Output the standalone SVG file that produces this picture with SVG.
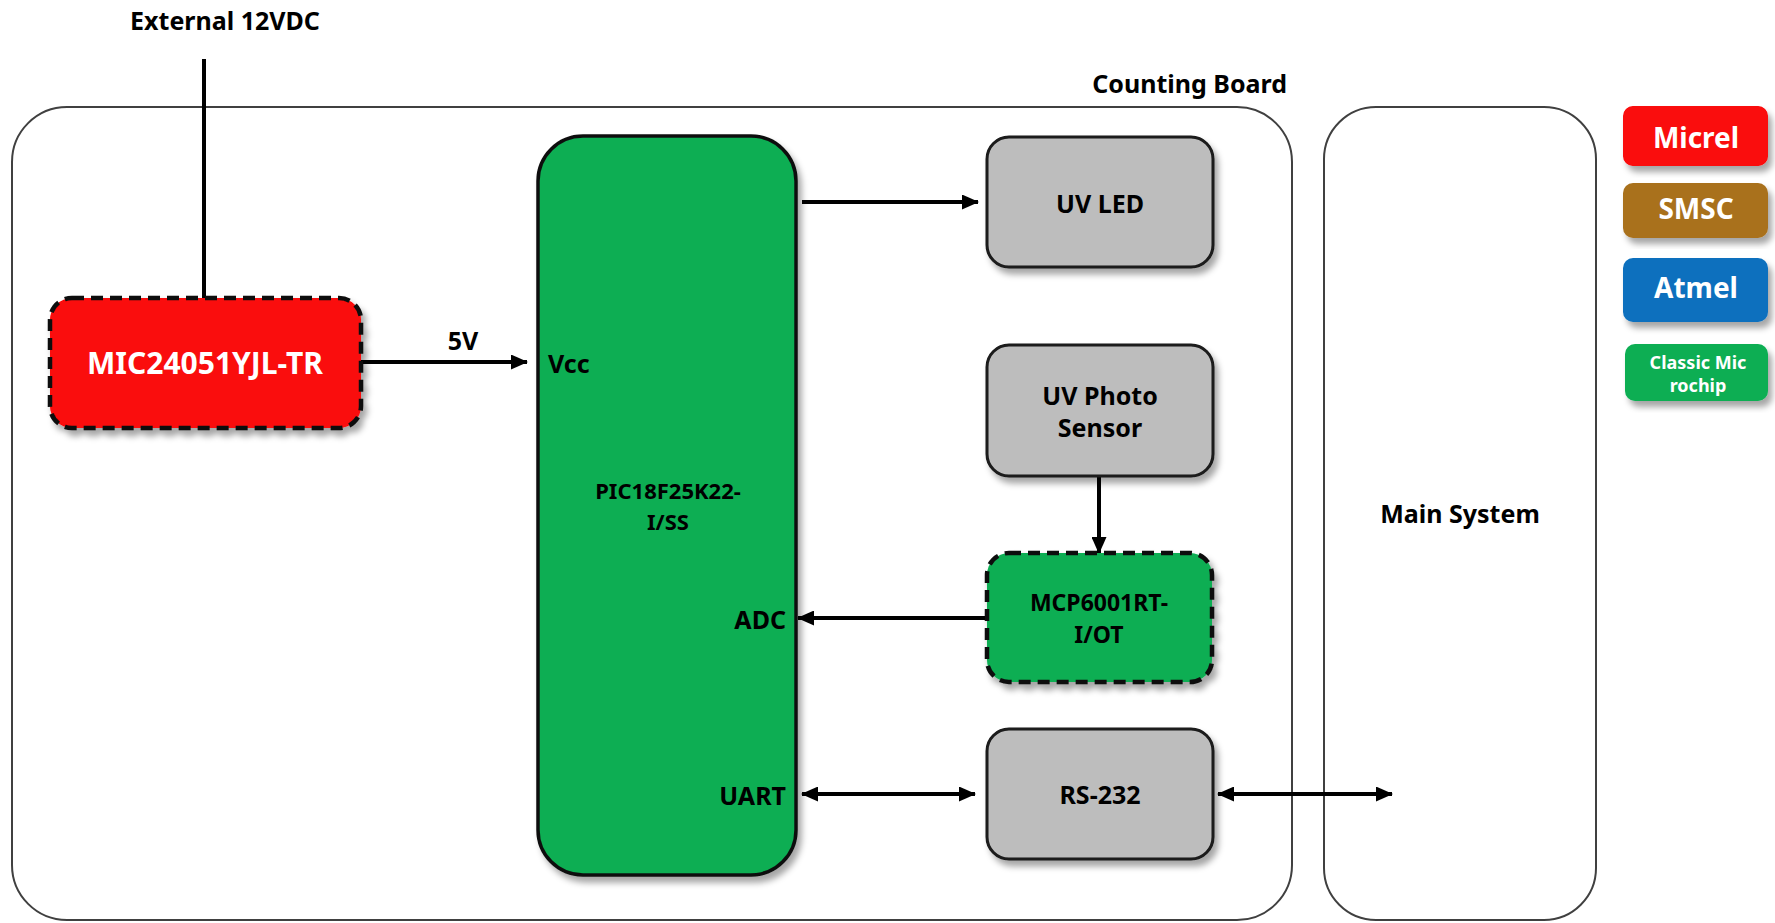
<svg xmlns="http://www.w3.org/2000/svg" width="1775" height="923" viewBox="0 0 1775 923">
<defs>
<filter id="sh" x="-10%" y="-10%" width="130%" height="130%">
<feDropShadow dx="4" dy="6" stdDeviation="3" flood-color="#000" flood-opacity="0.35"/>
</filter>
<marker id="ah" markerWidth="17" markerHeight="15" refX="16" refY="7.5" orient="auto-start-reverse" markerUnits="userSpaceOnUse">
<path d="M0,0 L17,7.5 L0,15 Z" fill="#000"/>
</marker>
<style>
text{font-family:"Noto Sans","Liberation Sans",sans-serif;font-weight:bold;}
.lbl{font-size:25px;fill:#000;}
.wt{fill:#fff;}
.bk{fill:#000;}
.outer{fill:#fff;stroke:#404040;stroke-width:2;}
.gray{fill:#BDBDBD;stroke:#1a1a1a;stroke-width:3;}
.green{fill:#08AE52;}
.solid{stroke:#111;stroke-width:3.5;}
.dash{stroke:#111;stroke-width:4.5;stroke-dasharray:12 7;}
.conn{stroke:#000;stroke-width:4;fill:none;}
</style>
</defs>
<rect width="1775" height="923" fill="#fff"/>

<g id="counting-board">
<rect class="outer" x="12" y="107" width="1280" height="813" rx="55" ry="55"/>
<text class="lbl" x="1287" y="93" text-anchor="end">Counting Board</text>
</g>
<g id="main-system">
<rect class="outer" x="1324" y="107" width="272" height="813" rx="52" ry="52"/>
<text class="lbl" x="1460" y="523" text-anchor="middle" font-size="26">Main System</text>
</g>

<g id="external">
<text class="lbl" x="225" y="30" text-anchor="middle">External 12VDC</text>
</g>

<g id="connectors">
<line class="conn" x1="204" y1="59" x2="204" y2="298"/>
<line class="conn" x1="361" y1="362" x2="527" y2="362" marker-end="url(#ah)"/>
<text class="lbl" x="463" y="350" text-anchor="middle">5V</text>
<line class="conn" x1="802" y1="202" x2="978" y2="202" marker-end="url(#ah)"/>
<line class="conn" x1="1099" y1="476" x2="1099" y2="553" marker-end="url(#ah)"/>
<line class="conn" x1="987" y1="618" x2="798" y2="618" marker-end="url(#ah)"/>
<line class="conn" x1="802" y1="794" x2="975" y2="794" marker-start="url(#ah)" marker-end="url(#ah)"/>
<line class="conn" x1="1218" y1="794" x2="1392" y2="794" marker-start="url(#ah)" marker-end="url(#ah)"/>
</g>

<g id="mic24051">
<rect x="50" y="298" width="311" height="130" rx="22" fill="#FA0707" class="dash" filter="url(#sh)"/>
<text class="wt" x="205" y="374" text-anchor="middle" font-size="30">MIC24051YJL-TR</text>
</g>

<g id="pic18f25k22">
<rect class="green solid" x="538" y="136" width="258" height="739" rx="45" filter="url(#sh)"/>
<text class="bk" x="668" y="499" text-anchor="middle" font-size="22">PIC18F25K22-</text>
<text class="bk" x="668" y="530" text-anchor="middle" font-size="22">I/SS</text>
<text class="lbl" x="548" y="373">Vcc</text>
<text class="lbl" x="786" y="629" text-anchor="end">ADC</text>
<text class="lbl" x="786" y="805" text-anchor="end">UART</text>
</g>

<g id="uv-led">
<rect class="gray" x="987" y="137" width="226" height="130" rx="22" filter="url(#sh)"/>
<text class="lbl" x="1100" y="213" text-anchor="middle">UV LED</text>
</g>

<g id="uv-photo-sensor">
<rect class="gray" x="987" y="345" width="226" height="131" rx="22" filter="url(#sh)"/>
<text class="lbl" x="1100" y="405" text-anchor="middle">UV Photo</text>
<text class="lbl" x="1100" y="437" text-anchor="middle">Sensor</text>
</g>

<g id="mcp6001">
<rect x="987" y="553" width="225" height="129" rx="22" class="green dash" filter="url(#sh)"/>
<text class="bk" x="1099" y="611" text-anchor="middle" font-size="23">MCP6001RT-</text>
<text class="bk" x="1099" y="643" text-anchor="middle" font-size="23">I/OT</text>
</g>

<g id="rs232">
<rect class="gray" x="987" y="729" width="226" height="130" rx="22" filter="url(#sh)"/>
<text class="lbl" x="1100" y="804" text-anchor="middle">RS-232</text>
</g>

<g id="legend-micrel">
<rect x="1623" y="106" width="145" height="60" rx="10" fill="#FA0707" filter="url(#sh)"/>
<text class="wt" x="1696" y="148" text-anchor="middle" font-size="28">Micrel</text>
</g>
<g id="legend-smsc">
<rect x="1623" y="183" width="145" height="55" rx="10" fill="#A9711F" filter="url(#sh)"/>
<text class="wt" x="1696" y="219" text-anchor="middle" font-size="28">SMSC</text>
</g>
<g id="legend-atmel">
<rect x="1623" y="258" width="145" height="64" rx="10" fill="#0B70BE" filter="url(#sh)"/>
<text class="wt" x="1696" y="298" text-anchor="middle" font-size="28">Atmel</text>
</g>
<g id="legend-microchip">
<rect x="1625" y="344" width="143" height="57" rx="10" fill="#08AE52" filter="url(#sh)"/>
<text class="wt" x="1698" y="369" text-anchor="middle" font-size="18">Classic Mic</text>
<text class="wt" x="1698" y="392" text-anchor="middle" font-size="18">rochip</text>
</g>
</svg>
